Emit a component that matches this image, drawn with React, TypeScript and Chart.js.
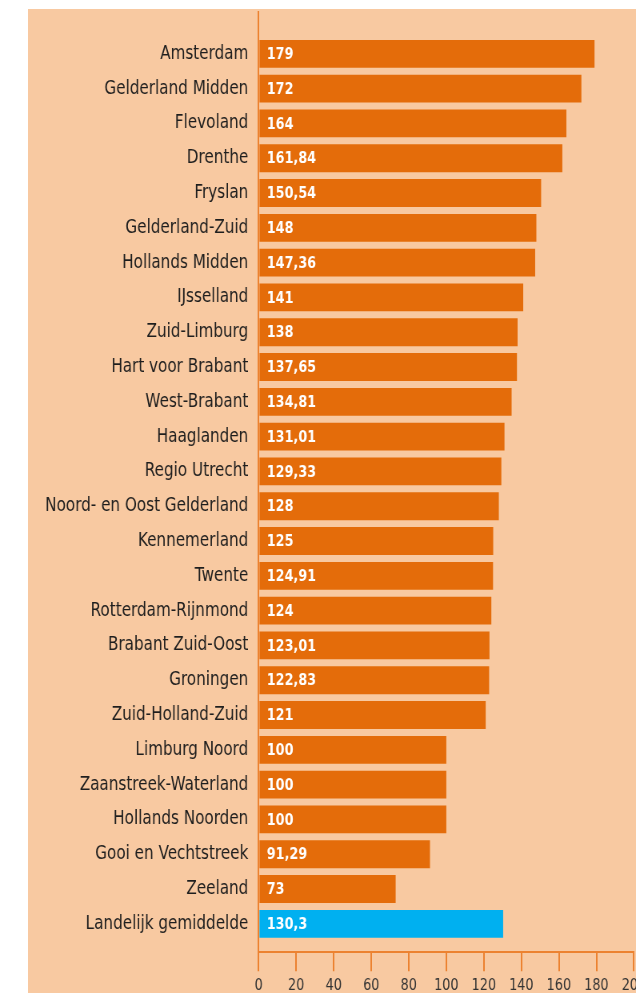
import React, { useEffect, useRef } from "react";
import { Chart, registerables } from "chart.js";

Chart.register(...registerables);

const labels: string[] = [
  "Amsterdam",
  "Gelderland Midden",
  "Flevoland",
  "Drenthe",
  "Fryslan",
  "Gelderland-Zuid",
  "Hollands Midden",
  "IJsselland",
  "Zuid-Limburg",
  "Hart voor Brabant",
  "West-Brabant",
  "Haaglanden",
  "Regio Utrecht",
  "Noord- en Oost Gelderland",
  "Kennemerland",
  "Twente",
  "Rotterdam-Rijnmond",
  "Brabant Zuid-Oost",
  "Groningen",
  "Zuid-Holland-Zuid",
  "Limburg Noord",
  "Zaanstreek-Waterland",
  "Hollands Noorden",
  "Gooi en Vechtstreek",
  "Zeeland",
  "Landelijk gemiddelde",
];

const values: number[] = [
  179, 172, 164, 161.84, 150.54, 148, 147.36, 141, 138, 137.65, 134.81, 131.01,
  129.33, 128, 125, 124.91, 124, 123.01, 122.83, 121, 100, 100, 100, 91.29, 73,
  130.3,
];

const xTickMin = 0;
const xTickMax = 200;
const xTickStep = 20;

const ORANGE = "#E46C0A";
const BLUE = "#00B0F0";
const PEACH = "#F8C9A1";
const AXIS = "#EC8230";
const FONT = "'DejaVu Sans', Verdana, sans-serif";

// horizontal squeeze of the whole drawing
const SX = 0.8;
const CW = 800;
const CH = 1010;

const fmt = (v: number) => v.toString().replace(".", ",");

const valueLabels = {
  id: "valueLabels",
  afterDatasetsDraw(chart: any) {
    const ctx = chart.ctx;
    const meta = chart.getDatasetMeta(0);
    ctx.save();
    ctx.font = `bold 16px ${FONT}`;
    ctx.fillStyle = "#FFFFFF";
    ctx.textAlign = "left";
    ctx.textBaseline = "middle";
    meta.data.forEach((bar: any, i: number) => {
      const { base, y } = bar.getProps(["base", "y"], true);
      ctx.fillText(fmt(values[i]), base + 9, y + 1);
    });
    ctx.restore();
  },
};

export default function App() {
  const ref = useRef<HTMLCanvasElement | null>(null);

  useEffect(() => {
    if (!ref.current) return;
    const lastIdx = labels.length - 1;
    const chart = new Chart(ref.current, {
      type: "bar",
      data: {
        datasets: [
          {
            data: values.map((v, i) => ({ x: v, y: i })) as any,
            backgroundColor: labels.map((_, i) => (i === lastIdx ? BLUE : ORANGE)),
            borderWidth: 0,
            barPercentage: 1,
            categoryPercentage: 0.8,
          },
        ],
      },
      options: {
        indexAxis: "y",
        responsive: false,
        maintainAspectRatio: false,
        animation: false,
        devicePixelRatio: 1,
        layout: { padding: { top: 2.7, right: CW - 757.4, left: 0, bottom: 0 } },
        plugins: {
          legend: { display: false },
          tooltip: { enabled: false },
        },
        scales: {
          x: {
            type: "linear",
            min: xTickMin,
            max: xTickMax,
            offset: false,
            ticks: {
              stepSize: xTickStep,
              padding: 5,
              color: "#333333",
              font: { family: FONT, size: 16 },
              maxRotation: 0,
              autoSkip: false,
            },
            grid: {
              drawOnChartArea: false,
              drawTicks: true,
              tickLength: 19,
              color: AXIS,
              lineWidth: 2,
            },
            border: { display: true, color: AXIS, width: 2 },
            afterFit: (scale: any) => {
              scale.height = CH - 943.2;
              scale.paddingLeft = 0;
              scale.paddingRight = 0;
              scale.paddingTop = 0;
              scale.paddingBottom = 0;
            },
          },
          y: {
            type: "linear",
            reverse: true,
            offset: false,
            min: -1.21,
            max: 25.815,
            afterBuildTicks: (scale: any) => {
              scale.ticks = labels.map((_, i) => ({ value: i }));
            },
            ticks: {
              autoSkip: false,
              padding: 13,
              color: "#1E1E1E",
              font: { family: FONT, size: 19 },
              callback: (_v: any, i: number) => labels[i],
            },
            grid: { display: false, drawTicks: false, offset: false },
            border: { display: true, color: AXIS, width: 2 },
            afterFit: (scale: any) => {
              scale.width = 288.4;
              scale.paddingLeft = 0;
              scale.paddingRight = 0;
              scale.paddingTop = 0;
              scale.paddingBottom = 0;
            },
          },
        },
      },
      plugins: [valueLabels],
    });
    return () => chart.destroy();
  }, []);

  return (
    <div
      style={{
        position: "absolute",
        left: 28,
        top: 9,
        width: 608,
        height: 984,
        overflow: "hidden",
        background: PEACH,
      }}
    >
      <div
        style={{
          position: "absolute",
          left: 0,
          top: 0,
          width: CW,
          height: CH,
          transform: `scaleX(${SX})`,
          transformOrigin: "0 0",
        }}
      >
        <canvas ref={ref} width={CW} height={CH} style={{ display: "block" }} />
      </div>
    </div>
  );
}
